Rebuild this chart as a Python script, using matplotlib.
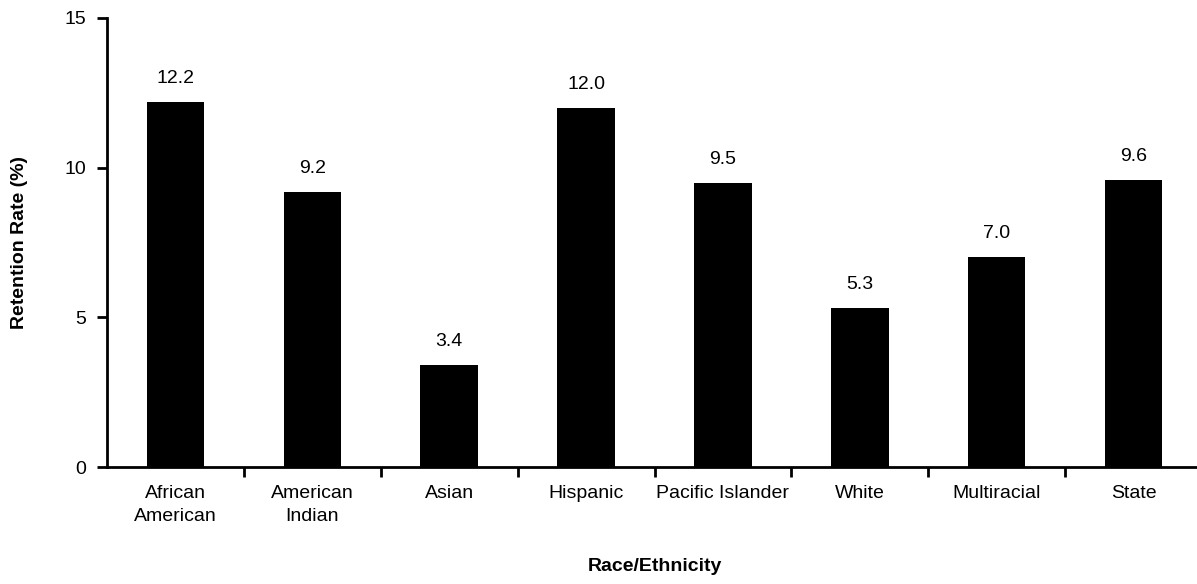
import matplotlib
matplotlib.use("Agg")
import matplotlib.pyplot as plt
from matplotlib.ticker import FixedLocator

plt.rcParams['font.family'] = ['Liberation Sans Narrow', 'Liberation Sans', 'DejaVu Sans']

# data
groups = ['African\nAmerican', 'American\nIndian', 'Asian', 'Hispanic',
          'Pacific Islander', 'White', 'Multiracial', 'State']
rates = [12.2, 9.2, 3.4, 12.0, 9.5, 5.3, 7.0, 9.6]

fig = plt.figure(figsize=(11.97, 5.84), dpi=100)
W, H = 1197, 584
ax = fig.add_axes([107 / W, (H - 467) / H, (1202 - 107) / W, (467 - 18) / H])

x = range(len(groups))
ax.bar(x, rates, width=0.42, color='black')
for xi, v in zip(x, rates):
    ax.text(xi, v + 0.5, f'{v:.1f}', ha='center', va='bottom', fontsize=14)

ax.set_xlim(-0.5, len(groups) - 0.5)
ax.set_ylim(0, 15)
ax.set_yticks([0, 5, 10, 15])
ax.set_xticks(list(x))
ax.set_xticklabels(groups, fontsize=14, linespacing=1.45)
ax.xaxis.set_minor_locator(FixedLocator([i + 0.5 for i in range(len(groups) - 1)]))
ax.tick_params(axis='x', which='major', length=0, pad=13)
ax.tick_params(axis='x', which='minor', length=7, width=2, direction='out')
ax.tick_params(axis='y', labelsize=14, length=7, width=2, direction='out', pad=8)

for side in ['top', 'right']:
    ax.spines[side].set_visible(False)
for side in ['left', 'bottom']:
    ax.spines[side].set_linewidth(2)

ax.set_ylabel('Retention Rate (%)', fontsize=14, fontweight='bold', labelpad=26)
ax.set_xlabel('Race/Ethnicity', fontsize=14, fontweight='bold', labelpad=24)

fig.savefig('out.png', dpi=100)
